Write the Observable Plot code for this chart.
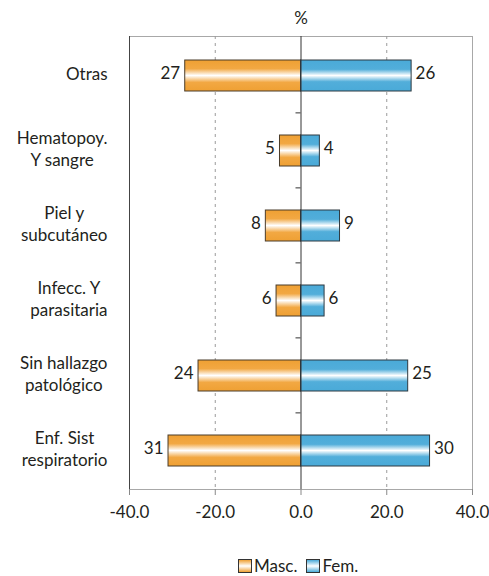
<!DOCTYPE html>
<html>
<head>
<meta charset="utf-8">
<script src="https://cdn.jsdelivr.net/npm/d3@7"></script>
<script src="https://cdn.jsdelivr.net/npm/@observablehq/plot@0.6"></script>
<style>
  body { margin: 0; background: #fff; font-family: Lato, "Noto Sans", sans-serif; color: #231f20; }
  #wrap { position: relative; width: 489px; height: 576px; overflow: hidden; }
  #legend { position: absolute; left: 238px; top: 557px; display: flex; align-items: center; font-size: 17px; line-height: 18px; }
  #legend .sw { width: 12px; height: 12px; border: 1px solid #333; margin-right: 2px; }
  #legend .item { display: flex; align-items: center; margin-right: 9px; }
</style>
</head>
<body>
<div id="wrap">
  <div id="chart"></div>
  <div id="legend"></div>
</div>
<script>
const categories = ["Otras", "Hematopoy.\nY sangre", "Piel y\nsubcutáneo", "Infecc. Y\nparasitaria", "Sin hallazgo\npatológico", "Enf. Sist\nrespiratorio"];
const mascValues = [27.0, 4.9, 8.2, 5.7, 23.9, 30.9];
const femValues = [25.8, 4.4, 9.1, 5.5, 25.0, 30.1];
const seriesNames = ["Masc.", "Fem."];
const xTicks = [-40, -20, 0, 20, 40];

const FONT = "Lato";
const FS = 17;
const orange = "#EFA033";
const blue = "#4AAAD8";

const masc = categories.map((c, i) => ({cat: c, v: mascValues[i]}));
const fem = categories.map((c, i) => ({cat: c, v: femValues[i]}));

const ctx = document.createElement("canvas").getContext("2d");
ctx.font = `${FS}px ${FONT}`;
const blockWidth = c => d3.max(c.split("\n"), l => ctx.measureText(l).width);

const defs = () => {
  const g = d3.create("svg:g");
  g.html(`<defs>
    <linearGradient id="gO" x1="0" y1="0" x2="0" y2="1">
      <stop offset="0" stop-color="${orange}"/><stop offset="0.28" stop-color="#F2A843"/>
      <stop offset="0.5" stop-color="#FFFFFF"/><stop offset="0.72" stop-color="#F2A843"/>
      <stop offset="1" stop-color="${orange}"/></linearGradient>
    <linearGradient id="gB" x1="0" y1="0" x2="0" y2="1">
      <stop offset="0" stop-color="${blue}"/><stop offset="0.3" stop-color="#52AEDA"/>
      <stop offset="0.5" stop-color="#FFFFFF"/><stop offset="0.7" stop-color="#52AEDA"/>
      <stop offset="1" stop-color="${blue}"/></linearGradient></defs>`);
  return g.node();
};

const PI = 0.59;
const boundaryTicks = (index, scales) => {
  const {x, y} = scales;
  const step = y(categories[1]) - y(categories[0]);
  const bw = step * (1 - PI);
  const g = d3.create("svg:g");
  for (let i = 1; i < categories.length; ++i) {
    const yb = y(categories[i - 1]) + bw / 2 + step / 2;
    g.append("line").attr("x1", x(0) - 5).attr("x2", x(0)).attr("y1", yb).attr("y2", yb)
      .attr("stroke", "#333").attr("stroke-width", 1);
  }
  return g.node();
};

const catLabels = categories.map(c => Plot.text([c], {
  x: () => -40, y: d => d, text: d => d, textAnchor: "middle", lineAnchor: "middle",
  lineHeight: 1.3, dx: -(22 + blockWidth(c) / 2), dy: -3, fontSize: FS, fill: "#231f20"
}));

const chart = Plot.plot({
  width: 489,
  height: 545,
  marginLeft: 129,
  marginRight: 17,
  marginTop: 36,
  marginBottom: 56,
  style: {fontFamily: FONT, fontSize: FS + "px", color: "#231f20", background: "#fff", overflow: "visible"},
  x: {domain: [-40, 40]},
  y: {domain: categories, paddingInner: PI, paddingOuter: PI / 2, axis: null},
  marks: [
    defs,
    Plot.frame({stroke: "#a8a8a8"}),
    Plot.ruleX([-40], {stroke: "#444"}),
    Plot.ruleX([-20, 20], {stroke: "#9a9a9a", strokeDasharray: "3,4"}),
    Plot.barX(masc, {x1: 0, x2: d => -d.v, y: "cat", fill: "url(#gO)", stroke: "#4a3c2a", strokeWidth: 1}),
    Plot.barX(fem, {x1: 0, x2: d => d.v, y: "cat", fill: "url(#gB)", stroke: "#2e3a42", strokeWidth: 1}),
    Plot.ruleX([0], {stroke: "#333"}),
    boundaryTicks,
    Plot.text(masc, {x: d => -d.v, y: "cat", text: d => String(Math.round(d.v)), textAnchor: "end", dx: -5, dy: -2, fontSize: FS}),
    Plot.text(fem, {x: d => d.v, y: "cat", text: d => String(Math.round(d.v)), textAnchor: "start", dx: 4, dy: -2, fontSize: FS}),
    ...catLabels,
    Plot.text(["%"], {x: () => 0, frameAnchor: "top", text: d => d, dy: -18, lineAnchor: "middle", fontSize: FS}),
    Plot.axisX({ticks: xTicks, tickFormat: d => d.toFixed(1), tickSize: 6, tickPadding: 10, stroke: "#888", fill: "#231f20", fontSize: FS, label: null})
  ]
});
document.getElementById("chart").appendChild(chart);

const legend = d3.select("#legend");
[[seriesNames[0], orange], [seriesNames[1], blue]].forEach(([name, col]) => {
  const it = legend.append("div").attr("class", "item");
  it.append("div").attr("class", "sw")
    .style("background", `linear-gradient(to bottom, ${col} 0%, #fff 50%, ${col} 100%)`);
  it.append("span").text(name);
});
</script>
</body>
</html>
